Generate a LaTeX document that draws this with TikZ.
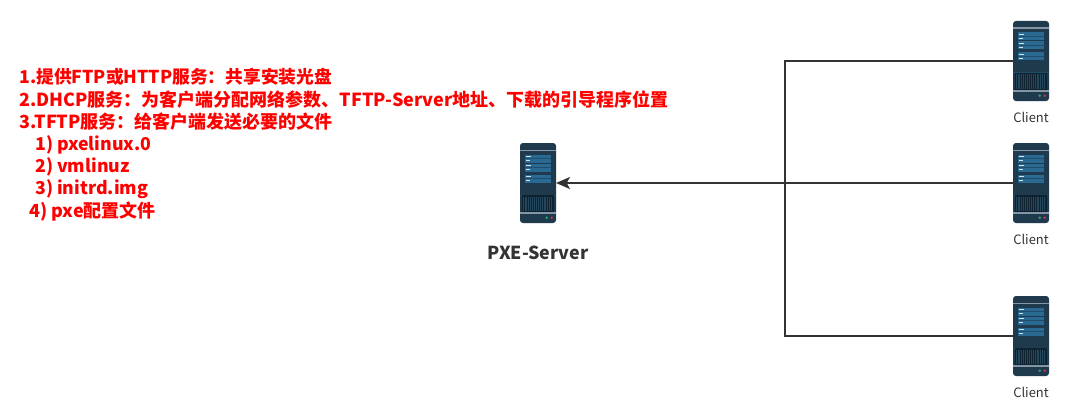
\documentclass[tikz,border=0pt]{standalone}
\usepackage{fontspec}
\setmainfont{Noto Sans CJK SC}
\usetikzlibrary{arrows.meta}
\definecolor{srvbody}{HTML}{1E3A4C}
\definecolor{srvbar}{HTML}{8496A3}
\definecolor{srvpanel}{HTML}{2A6A92}
\definecolor{srvline}{HTML}{1F4D6B}
\definecolor{srvvent}{HTML}{0E2231}
\definecolor{srvstripe}{HTML}{24475C}
\definecolor{srvdash}{HTML}{CFE3F0}
\definecolor{srvgreen}{HTML}{2EA77A}
\definecolor{srvred}{HTML}{C2335A}
\definecolor{linkgray}{HTML}{333333}
\definecolor{notered}{HTML}{FF0000}
\newcommand{\srvpanelrow}[1]{%
  \fill[srvpanel] (5,#1) rectangle (31,#1+8);
  \fill[srvline] (5,#1+3.6) rectangle (31,#1+4.4);
  \fill[srvdash] (5.7,#1+1.3) rectangle (11,#1+2.6);
  \fill[srvdash] (5.7,#1+5.4) rectangle (9.5,#1+6.7);
}
\newcommand{\srvicon}[1]{%
  \begin{scope}[shift={(#1.north west)}]
    \fill[srvbar] (0,6.5) rectangle (36,8);
    \srvpanelrow{11.5}
    \srvpanelrow{20.5}
    \srvpanelrow{31.5}
    \fill[srvline] (0,51.5) rectangle (36,52);
    \fill[srvvent] (1.5,52) rectangle (33.5,69);
    \foreach \i in {0,...,15}
      \fill[srvstripe] (2.6+\i*1.9,53.5) rectangle (3.2+\i*1.9,68);
    \fill[srvbar] (0,69) rectangle (36,71);
    \fill[srvgreen] (26.7,74.7) circle (1.4);
    \fill[srvred] (31.7,74.7) circle (1.4);
  \end{scope}}
\tikzset{
  x=.75pt,y=-.75pt,
  serverbox/.style={inner sep=0pt,outer sep=0pt,minimum width=27pt,minimum height=60pt,
    rounded corners=2.2pt,fill=srvbody},
  clientlabel/.style={inner sep=0pt,font=\fontsize{9.7pt}{11pt}\selectfont,text=linkgray},
  serverlabel/.style={inner sep=0pt,font=\fontsize{13.4pt}{15pt}\selectfont\bfseries,text=linkgray},
  noteline/.style={inner sep=0pt,anchor=west,font=\fontsize{13.3pt}{15pt}\selectfont\bfseries,text=notered},
  notewide/.style={noteline,font=\fontsize{13.5pt}{15pt}\selectfont\bfseries},
  link/.style={draw=linkgray,line width=1.3pt},
  linkarrow/.style={link,-{Stealth[length=10.5pt,width=9pt,inset=2.5pt]}}
}
\begin{document}
\begin{tikzpicture}
  \useasboundingbox (0,0) rectangle (1081,410);
  \node[serverbox] (srv) at (538,183) {};
  \node[serverbox] (c1) at (1031,61) {};
  \node[serverbox] (c2) at (1031,183) {};
  \node[serverbox] (c3) at (1031,336) {};
  \srvicon{srv}
  \srvicon{c1}
  \srvicon{c2}
  \srvicon{c3}
  \node[serverlabel] (srvl) at (538,252.5) {PXE-Server};
  \node[clientlabel] (c1l) at (1031,117.5) {Client};
  \node[clientlabel] (c2l) at (1031,239.5) {Client};
  \node[clientlabel] (c3l) at (1031,392.5) {Client};
  \coordinate (jtop) at (785,61);
  \coordinate (jbot) at (785,336);
  \draw[link] (c1.west) -- (jtop) -- (jbot) -- (c3.west);
  \draw[linkarrow] (c2.west) -- (srv.east);
  \node[noteline] (n1) at (19,76.5) {1.提供FTP或HTTP服务：共享安装光盘};
  \node[notewide] (n2) at (19,99.5) {2.DHCP服务：为客户端分配网络参数、TFTP-Server地址、下载的引导程序位置};
  \node[notewide] (n3) at (19,121.5) {3.TFTP服务：给客户端发送必要的文件};
  \node[noteline] (n4) at (35,144.5) {1) pxelinux.0};
  \node[noteline] (n5) at (35,166.5) {2) vmlinuz};
  \node[noteline] (n6) at (35,189.5) {3) initrd.img};
  \node[notewide] (n7) at (29,211.5) {4) pxe配置文件};
\end{tikzpicture}
\end{document}
